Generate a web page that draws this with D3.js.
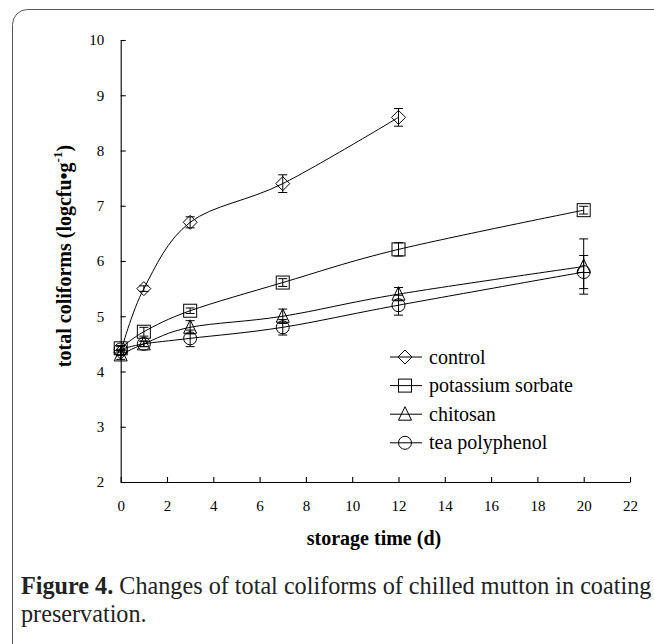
<!DOCTYPE html>
<html>
<head>
<meta charset="utf-8">
<script src="https://cdn.jsdelivr.net/npm/d3@7/dist/d3.min.js"></script>
<style>
  html, body { margin: 0; padding: 0; background: #fff; }
  svg { display: block; }
  text { font-family: "Liberation Serif", "Times New Roman", serif; }
</style>
</head>
<body>
<svg id="chart" width="654" height="644" font-family="Liberation Serif"></svg>
<script>
// ---- data ----
const days = [0, 1, 3, 7, 12, 20];
const seriesNames = ["control", "potassium sorbate", "chitosan", "tea polyphenol"];
const seriesSymbols = ["diamond", "square", "triangle", "circle"];
const controlValues = [4.35, 5.5, 6.7, 7.4, 8.6];
const controlErrors = [0.05, 0.05, 0.1, 0.16, 0.16];
const sorbateValues = [4.42, 4.72, 5.1, 5.61, 6.21, 6.92];
const sorbateErrors = [0.05, 0.08, 0.05, 0.07, 0.12, 0.07];
const chitosanValues = [4.3, 4.5, 4.8, 5.0, 5.4, 5.9];
const chitosanErrors = [0.08, 0.05, 0.12, 0.13, 0.12, 0.5];
const teaValues = [4.4, 4.5, 4.6, 4.8, 5.2, 5.8];
const teaErrors = [0.05, 0.05, 0.15, 0.14, 0.18, 0.3];
const xTicks = [0, 2, 4, 6, 8, 10, 12, 14, 16, 18, 20, 22];
const yTicks = [2, 3, 4, 5, 6, 7, 8, 9, 10];
const xTitle = "storage time (d)";
const captionBold = "Figure 4.";
const captionLine1 = " Changes of total coliforms of chilled mutton in coating";
const captionLine2 = "preservation.";

const FONT = "Liberation Serif";
const allValues = [controlValues, sorbateValues, chitosanValues, teaValues];
const allErrors = [controlErrors, sorbateErrors, chitosanErrors, teaErrors];
const series = seriesNames.map((name, i) => ({
  name, symbol: seriesSymbols[i],
  points: allValues[i].map((v, j) => ({ x: days[j], y: v, e: allErrors[i][j] }))
}));

// ---- layout ----
const svg = d3.select("#chart");
svg.append("rect").attr("width", 654).attr("height", 644).attr("fill", "#fff");
// frame
svg.append("rect").attr("x", 12.5).attr("y", 9.5).attr("width", 700).attr("height", 700)
  .attr("rx", 15).attr("ry", 15).attr("fill", "none").attr("stroke", "#555").attr("stroke-width", 1);

const x = d3.scaleLinear().domain([0, 22]).range([120.7, 630]);
const y = d3.scaleLinear().domain([2, 10]).range([482, 40]);

const xAxis = d3.axisBottom(x).tickValues(xTicks).tickSizeInner(-5).tickSizeOuter(0).tickPadding(18.3);
const yAxis = d3.axisLeft(y).tickValues(yTicks).tickSizeInner(-5).tickSizeOuter(0).tickPadding(16.5);

const gx = svg.append("g").attr("transform", `translate(0,${y(2)})`).call(xAxis);
const gy = svg.append("g").attr("transform", `translate(${x(0)},0)`).call(yAxis);
[gx, gy].forEach(g => {
  g.attr("font-family", FONT).attr("font-size", 15);
  g.selectAll("path, line").attr("stroke", "#000").attr("stroke-width", 1.1);
  g.selectAll("text").attr("font-family", FONT).attr("font-size", 15).attr("fill", "#000");
});

// axis titles
svg.append("text").attr("x", 374).attr("y", 545).attr("text-anchor", "middle")
  .attr("font-family", FONT).attr("font-size", 20).attr("font-weight", "bold").text(xTitle);

const yt = svg.append("text").attr("transform", "translate(71,256) rotate(-90)")
  .attr("text-anchor", "middle").attr("font-family", FONT).attr("font-size", 20).attr("font-weight", "bold");
yt.append("tspan").text("total coliforms (logcfu\u2022g");
yt.append("tspan").attr("font-size", 13).attr("dy", -9).text("-1");
yt.append("tspan").attr("dy", 9).text(")");

// markers
const symSize = 13;
function drawSymbol(g, type, cx, cy) {
  const h = symSize / 2;
  if (type === "diamond") {
    g.append("path").attr("d", `M${cx},${cy - h - 0.5}L${cx + h + 0.5},${cy}L${cx},${cy + h + 0.5}L${cx - h - 0.5},${cy}Z`);
  } else if (type === "square") {
    g.append("rect").attr("x", cx - h).attr("y", cy - h).attr("width", symSize).attr("height", symSize);
  } else if (type === "triangle") {
    g.append("path").attr("d", `M${cx},${cy - h - 1}L${cx + h},${cy + h - 0.5}L${cx - h},${cy + h - 0.5}Z`);
  } else {
    g.append("circle").attr("cx", cx).attr("cy", cy).attr("r", h);
  }
}

const line = d3.line().x(d => x(d.x)).y(d => y(d.y)).curve(d3.curveCatmullRom.alpha(0));

series.forEach(s => {
  const g = svg.append("g").attr("fill", "none").attr("stroke", "#000").attr("stroke-width", 1);
  g.append("path").attr("d", line(s.points));
  s.points.forEach(p => {
    const px = x(p.x), top = y(p.y + p.e), bot = y(p.y - p.e);
    g.append("line").attr("x1", px).attr("x2", px).attr("y1", top).attr("y2", bot);
    g.append("line").attr("x1", px - 4.5).attr("x2", px + 4.5).attr("y1", top).attr("y2", top);
    g.append("line").attr("x1", px - 4.5).attr("x2", px + 4.5).attr("y1", bot).attr("y2", bot);
    drawSymbol(g, s.symbol, px, y(p.y));
  });
});

// legend
const legY0 = 357, legDy = 28.6;
series.forEach((s, i) => {
  const ly = legY0 + i * legDy;
  const g = svg.append("g").attr("fill", "none").attr("stroke", "#000").attr("stroke-width", 1);
  g.append("line").attr("x1", 390).attr("x2", 422).attr("y1", ly).attr("y2", ly);
  drawSymbol(g, s.symbol, 405, ly);
  svg.append("text").attr("x", 429).attr("y", ly + 6.5).attr("font-family", FONT)
    .attr("font-size", 20).attr("fill", "#000").text(s.name);
});

// caption
const cap = svg.append("text").attr("x", 21).attr("y", 594).attr("font-family", FONT)
  .attr("font-size", 24.2).attr("fill", "#222");
cap.append("tspan").attr("font-weight", "bold").text(captionBold);
cap.append("tspan").text(captionLine1);
svg.append("text").attr("x", 21).attr("y", 622).attr("font-family", FONT)
  .attr("font-size", 24.2).attr("fill", "#222").text(captionLine2);
</script>
</body>
</html>
